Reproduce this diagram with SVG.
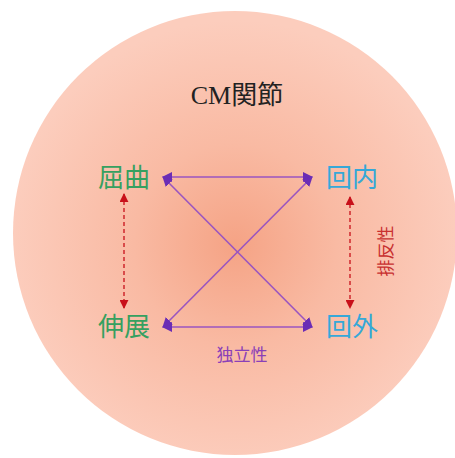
<svg xmlns="http://www.w3.org/2000/svg" width="455" height="458" viewBox="0 0 455 458">
<defs>
<radialGradient id="bg" cx="235" cy="245" r="225" gradientUnits="userSpaceOnUse">
<stop offset="0" stop-color="#f5a385"/>
<stop offset="0.45" stop-color="#f9baa3"/>
<stop offset="1" stop-color="#fccdbd"/>
</radialGradient>
<marker id="pa" viewBox="0 0 10 10" refX="9" refY="5" markerWidth="10" markerHeight="10" markerUnits="userSpaceOnUse" orient="auto-start-reverse">
<path d="M0,0 L10,5 L0,10 z" fill="#6b2db5"/>
</marker>
<marker id="ra" viewBox="0 0 10 10" refX="9" refY="5" markerWidth="9" markerHeight="9" markerUnits="userSpaceOnUse" orient="auto-start-reverse">
<path d="M0,0 L10,5 L0,10 z" fill="#c8101a"/>
</marker>
</defs>
<style>
.lbl{font-family:"Liberation Serif","Noto Sans CJK JP",serif;font-size:26px;text-anchor:middle}
.g{fill:#35a060}
.b{fill:#35a8d8}
.s{font-family:"Noto Sans CJK JP",sans-serif;font-size:17px;text-anchor:middle}
.p{stroke:#9a55c0;stroke-width:1.6;fill:none}
.r{stroke:#c8101a;stroke-width:1.3;stroke-dasharray:4 3;fill:none}
</style>
<rect width="455" height="458" fill="#ffffff"/>
<circle cx="235" cy="233" r="222" fill="url(#bg)"/>
<g id="title"><text x="237" y="104" class="lbl" style="font-size:26px;fill:#222">CM関節</text></g>
<g id="kukkyoku"><text x="124" y="187" class="lbl g">屈曲</text></g>
<g id="kainai"><text x="352" y="187" class="lbl b">回内</text></g>
<g id="shinten"><text x="124" y="336" class="lbl g">伸展</text></g>
<g id="kaigai"><text x="352" y="336" class="lbl b">回外</text></g>
<g id="connectors">
<line x1="163" y1="177" x2="312" y2="177" class="p" marker-start="url(#pa)" marker-end="url(#pa)"/>
<line x1="163" y1="327" x2="312" y2="327" class="p" marker-start="url(#pa)" marker-end="url(#pa)"/>
<line x1="163" y1="177" x2="312" y2="327" class="p" marker-start="url(#pa)" marker-end="url(#pa)"/>
<line x1="312" y1="177" x2="163" y2="327" class="p" marker-start="url(#pa)" marker-end="url(#pa)"/>
<line x1="124" y1="194" x2="124" y2="308" class="r" marker-start="url(#ra)" marker-end="url(#ra)"/>
<line x1="350" y1="197" x2="350" y2="308" class="r" marker-start="url(#ra)" marker-end="url(#ra)"/>
</g>
<g id="dokuritsu"><text x="242" y="361" class="s" style="fill:#8a40b8">独立性</text></g>
<g id="haihan"><text transform="translate(392,251) rotate(-90)" class="s" style="fill:#c83030">排反性</text></g>
</svg>
